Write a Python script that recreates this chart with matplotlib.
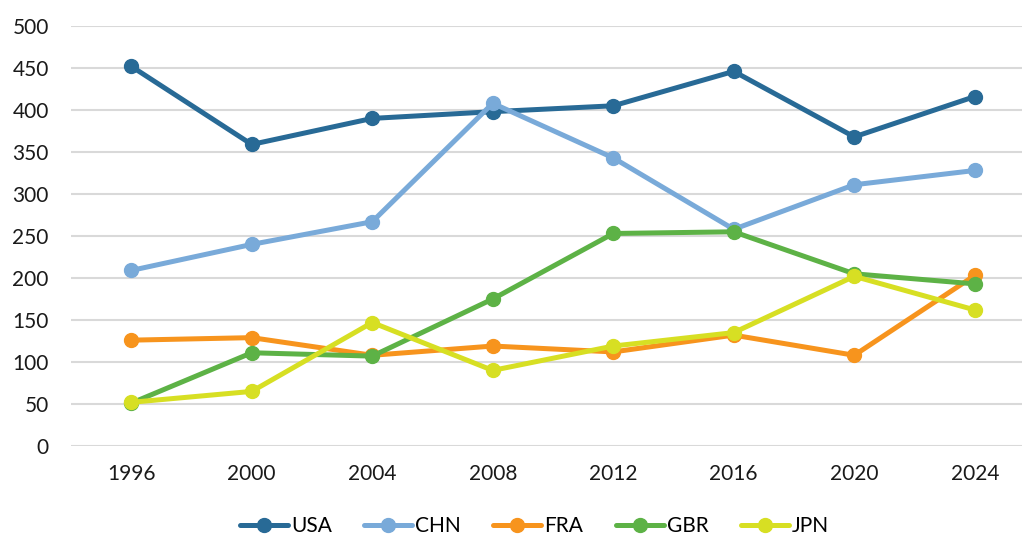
import matplotlib.pyplot as plt

plt.rcParams['font.family'] = ['Lato', 'DejaVu Sans']

# data
years = ['1996', '2000', '2004', '2008', '2012', '2016', '2020', '2024']
usa = [452, 359, 390, 398, 405, 446, 368, 416]
chn = [209, 240, 267, 408, 343, 258, 311, 328]
fra = [126, 129, 108, 119, 112, 132, 108, 203]
gbr = [51, 111, 107, 175, 253, 255, 205, 193]
jpn = [52, 65, 147, 90, 119, 135, 202, 162]

series = [('USA', usa, '#286A96'),
          ('CHN', chn, '#79AAD9'),
          ('FRA', fra, '#F7941D'),
          ('GBR', gbr, '#5DB246'),
          ('JPN', jpn, '#D7DF23')]

fig = plt.figure(figsize=(10.22, 5.39), dpi=100)
ax = fig.add_axes([71 / 1022, 93 / 539, 964 / 1022, 420 / 539])

x = list(range(len(years)))
for name, vals, col in series:
    ax.plot(x, vals, color=col, lw=3.6, marker='o', ms=10, label=name,
            solid_capstyle='round')

ax.set_xlim(-0.5, len(years) - 0.5)
ax.set_ylim(0, 500)
ax.set_yticks(range(0, 501, 50))
ax.set_xticks(x)
ax.set_xticklabels(years)
ax.grid(axis='y', color='#D9D9D9', lw=1.5)
ax.set_axisbelow(True)
for s in ax.spines.values():
    s.set_visible(False)
ax.tick_params(length=0, labelsize=15, colors='#1a1a1a')
ax.tick_params(axis='y', pad=16)
ax.tick_params(axis='x', pad=13)

fig.legend(loc='lower center', bbox_to_anchor=(0.523, -0.03), ncol=5,
           frameon=False, fontsize=15, handlelength=2.3,
           columnspacing=1.55, handletextpad=0.15)

fig.savefig('out.png', dpi=100)
